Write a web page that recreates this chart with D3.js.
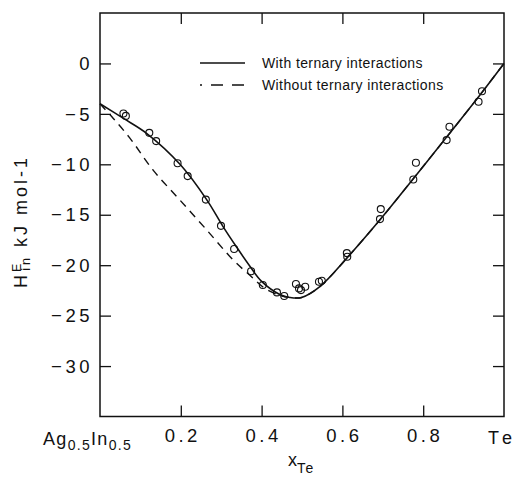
<!DOCTYPE html>
<html>
<head>
<meta charset="utf-8">
<script src="https://cdn.jsdelivr.net/npm/d3@7"></script>
<style>
  html, body { margin: 0; padding: 0; background: #fff; }
  svg { display: block; }
  text { font-family: "Liberation Sans", Arial, sans-serif; fill: #111; }
</style>
</head>
<body>
<svg id="chart" width="526" height="482"></svg>
<script>
// Excess enthalpy of the Ag0.5In0.5–Te section
const xTicks = [0.2, 0.4, 0.6, 0.8];
const yTicks = [0, -5, -10, -15, -20, -25, -30];

// model curve with ternary interaction terms: [x_Te, H^E]
const withTernary = [
  [0, -4.0], [0.058, -5.45], [0.116, -6.95], [0.198, -10.0], [0.264, -13.5],
  [0.305, -16.2], [0.338, -18.2], [0.371, -20.1], [0.40, -21.6], [0.445, -22.9],
  [0.47, -23.2], [0.499, -23.2], [0.545, -22.1], [0.611, -19.3], [0.693, -15.5],
  [0.776, -11.4], [0.858, -7.3], [0.941, -3.1], [1.0, 0]
];

// model curve from binary parameters only
const withoutTernary = [
  [0, -4.0], [0.033, -5.45], [0.074, -7.4], [0.132, -10.6], [0.198, -13.55],
  [0.264, -16.5], [0.33, -19.5], [0.371, -21.0], [0.408, -22.3], [0.445, -23.0],
  [0.47, -23.2], [0.499, -23.2], [0.545, -22.1], [0.611, -19.3], [0.693, -15.5],
  [0.776, -11.4], [0.858, -7.3], [0.941, -3.1], [1.0, 0]
];

// calorimetric measurements
const measured = [
  [0.058, -4.96], [0.064, -5.2], [0.122, -6.88], [0.139, -7.7], [0.192, -9.9],
  [0.217, -11.17], [0.262, -13.5], [0.2995, -16.1], [0.332, -18.4], [0.374, -20.6],
  [0.403, -21.97], [0.438, -22.7], [0.456, -23.06], [0.485, -21.87], [0.4926, -22.3],
  [0.4975, -22.47], [0.508, -22.14], [0.542, -21.64], [0.549, -21.54], [0.611, -18.8],
  [0.612, -19.17], [0.695, -14.44], [0.693, -15.43], [0.782, -9.85], [0.7755, -11.5],
  [0.865, -6.28], [0.858, -7.6], [0.9455, -2.75], [0.937, -3.8]
];

const svg = d3.select("#chart");
const plotL = 100, plotR = 504, plotT = 13, plotB = 416.5;

const x = d3.scaleLinear().domain([0, 1]).range([plotL, plotR]);
const y = d3.scaleLinear().domain([-35, 5]).range([plotB, plotT]);

const tickLen = 11;
const minus = v => (v < 0 ? "\u2212" + Math.abs(v) : String(v));

// inward ticks on all four sides
svg.append("g").attr("transform", `translate(0,${plotB})`)
  .call(d3.axisTop(x).tickValues(xTicks).tickSize(tickLen).tickFormat(""))
  .call(g => g.select(".domain").remove());
svg.append("g").attr("transform", `translate(0,${plotT})`)
  .call(d3.axisBottom(x).tickValues(xTicks).tickSize(tickLen).tickFormat(""))
  .call(g => g.select(".domain").remove());
svg.append("g").attr("transform", `translate(${plotL},0)`)
  .call(d3.axisRight(y).tickValues(yTicks).tickSize(tickLen).tickFormat(""))
  .call(g => g.select(".domain").remove());
svg.append("g").attr("transform", `translate(${plotR},0)`)
  .call(d3.axisLeft(y).tickValues(yTicks).tickSize(tickLen).tickFormat(""))
  .call(g => g.select(".domain").remove());
svg.selectAll(".tick line").attr("stroke", "#111").attr("stroke-width", 1.3);

// frame
svg.append("rect")
  .attr("x", plotL).attr("y", plotT)
  .attr("width", plotR - plotL).attr("height", plotB - plotT)
  .attr("fill", "none").attr("stroke", "#111").attr("stroke-width", 1.5);

// tick labels
svg.append("g").selectAll("text").data(yTicks).join("text")
  .attr("x", 93).attr("y", d => y(d))
  .attr("dy", "0.36em")
  .attr("text-anchor", "end")
  .style("font-size", "18.5px").style("letter-spacing", "3.5px")
  .text(d => minus(d));

svg.append("g").selectAll("text").data(xTicks).join("text")
  .attr("x", d => x(d) + 2).attr("y", 442)
  .attr("text-anchor", "middle")
  .style("font-size", "18.5px").style("letter-spacing", "3.5px")
  .text(d => d.toFixed(1));

// end-member labels
const ag = svg.append("text").attr("x", 43).attr("y", 445)
  .style("font-size", "18px").style("letter-spacing", "1.3px");
ag.append("tspan").text("Ag");
ag.append("tspan").attr("dy", 5).style("font-size", "14px").text("0.5");
ag.append("tspan").attr("dy", -5).text("In");
ag.append("tspan").attr("dy", 5).style("font-size", "14px").text("0.5");

svg.append("text").attr("x", 488).attr("y", 444)
  .style("font-size", "18px").style("letter-spacing", "5px").text("Te");

// axis titles
const xl = svg.append("text").attr("x", 288).attr("y", 466)
  .style("font-size", "18px");
xl.append("tspan").text("x");
xl.append("tspan").attr("dy", 7).style("font-size", "14px").style("letter-spacing", "1.5px").text("Te");

const yl = svg.append("text")
  .attr("transform", "translate(27,288) rotate(-90)")
  .style("font-size", "18px").style("letter-spacing", "3px");
yl.append("tspan").text("H");
yl.append("tspan").attr("dy", -6).style("font-size", "12.5px").text("E");
yl.append("tspan").attr("dx", -10).attr("dy", 9).style("font-size", "12.5px").text("in");
yl.append("tspan").attr("dy", -3).text(" kJ mol-1");

// model curves
const line = d3.line().x(d => x(d[0])).y(d => y(d[1])).curve(d3.curveCatmullRom.alpha(0.5));

svg.append("path").datum(withoutTernary)
  .attr("d", line).attr("fill", "none")
  .attr("stroke", "#111").attr("stroke-width", 1.4)
  .attr("stroke-dasharray", "8,6");

svg.append("path").datum(withTernary)
  .attr("d", line).attr("fill", "none")
  .attr("stroke", "#111").attr("stroke-width", 1.6);

// measured points
svg.append("g").selectAll("circle").data(measured).join("circle")
  .attr("cx", d => x(d[0])).attr("cy", d => y(d[1]))
  .attr("r", 3.5)
  .attr("fill", "none").attr("stroke", "#111").attr("stroke-width", 1.1);

// legend
const legend = svg.append("g");
legend.append("line").attr("x1", 200).attr("x2", 245).attr("y1", 63).attr("y2", 63)
  .attr("stroke", "#111").attr("stroke-width", 1.6);
legend.append("line").attr("x1", 200).attr("x2", 245).attr("y1", 85).attr("y2", 85)
  .attr("stroke", "#111").attr("stroke-width", 1.4)
  .attr("stroke-dasharray", "2,9,12,9,12");
legend.append("text").attr("x", 262).attr("y", 63).attr("dy", "0.35em")
  .style("font-size", "14px").style("letter-spacing", "0.4px").text("With ternary interactions");
legend.append("text").attr("x", 262).attr("y", 85).attr("dy", "0.35em")
  .style("font-size", "14px").style("letter-spacing", "0.4px").text("Without ternary interactions");
</script>
</body>
</html>
